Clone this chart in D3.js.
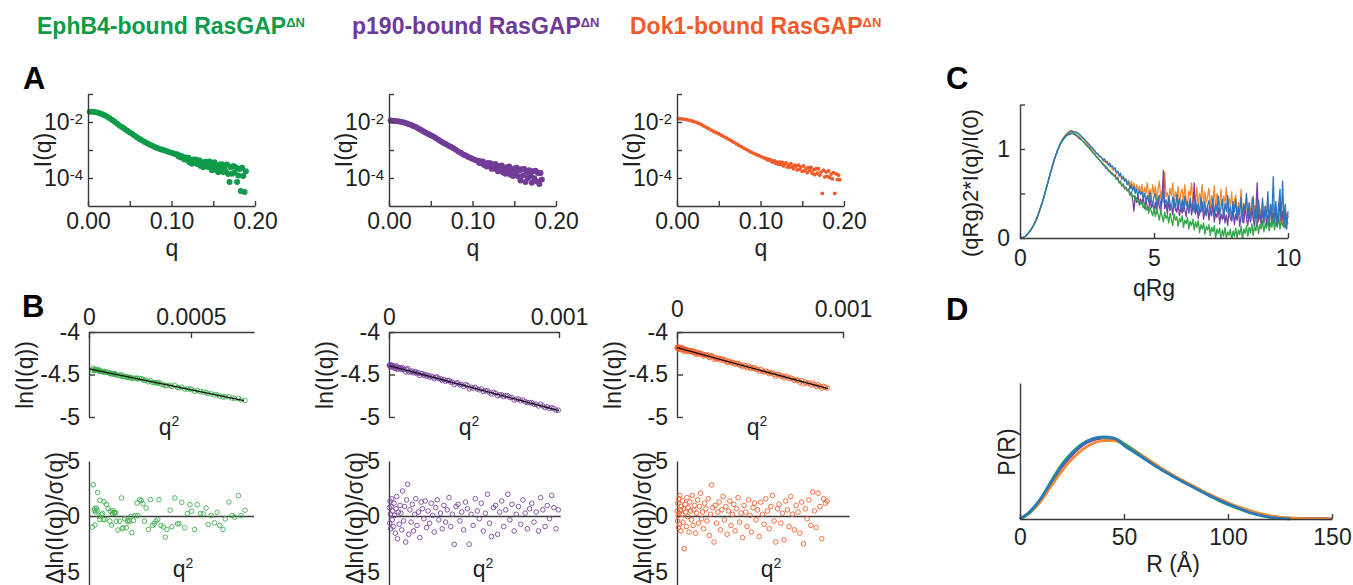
<!DOCTYPE html>
<html>
<head>
<meta charset="utf-8">
<script src="https://cdn.jsdelivr.net/npm/d3@7"></script>
<style>
body{margin:0;background:#fff}
</style>
</head>
<body>
<svg id="fig" width="1353" height="585"></svg>
<script>
// ---------- panel A : I(q) vs q (log10 I) ----------
const qA = [0.002,0.005,0.008,0.011,0.014,0.017,0.02,0.023,0.026,0.029,
  0.032,0.035,0.038,0.041,0.044,0.047,0.05,0.053,0.056,0.059,
  0.062,0.065,0.068,0.071,0.074,0.077,0.08,0.083,0.086,0.089,
  0.092,0.095,0.098,0.101,0.104,
  0.1065,0.108,0.1095,0.111,0.1125,0.114,0.1155,0.117,0.1185,0.12,
  0.1215,0.123,0.1245,0.126,0.1275,0.129,0.1305,0.132,0.1335,0.135,
  0.1365,0.138,0.1395,0.141,0.1425,0.144,0.1455,0.147,0.1485,0.15,
  0.1515,0.153,0.1545,0.156,0.1575,0.159,0.1605,0.162,0.1635,0.165,
  0.1665,0.168,0.1695,0.171,0.1725,0.174,0.1755,0.177,0.1785,0.18,
  0.1815,0.183,0.1845,0.186,0.1875,0.189,0.1905,0.192,0.1935,0.195];
const ephLogI = [-1.63,-1.635,-1.645,-1.66,-1.69,-1.72,-1.76,-1.81,-1.87,-1.93,
  -1.99,-2.06,-2.13,-2.19,-2.25,-2.31,-2.37,-2.43,-2.49,-2.55,
  -2.61,-2.66,-2.71,-2.76,-2.81,-2.85,-2.89,-2.93,-2.96,-2.99,
  -3.02,-3.05,-3.08,-3.11,-3.14,
  -3.15,-3.22,-3.20,-3.27,-3.22,-3.28,-3.34,-3.27,-3.35,-3.28,
  -3.44,-3.35,-3.49,-3.34,-3.44,-3.34,-3.50,-3.46,-3.37,-3.57,
  -3.45,-3.62,-3.43,-3.55,-3.42,-3.61,-3.415,-3.615,-3.725,-3.525,
  -3.435,-3.715,-3.595,-3.795,-3.515,-3.685,-3.505,-3.79,-3.60,-3.76,
  -3.52,-3.86,-4.14,-3.615,-3.845,-3.57,-3.80,-3.62,-4.14,-3.915,
  -3.68,-4.46,-3.635,-3.93,-4.50,-3.76];
const p190LogI = [-1.95,-1.955,-1.96,-1.975,-1.99,-2.01,-2.04,-2.07,-2.10,-2.14,
  -2.18,-2.23,-2.28,-2.33,-2.38,-2.43,-2.47,-2.52,-2.57,-2.63,
  -2.69,-2.74,-2.79,-2.84,-2.88,-2.94,-2.99,-3.05,-3.10,-3.16,
  -3.20,-3.25,-3.29,-3.33,-3.37,
  -3.38,-3.46,-3.40,-3.47,-3.41,-3.54,-3.49,-3.59,-3.46,-3.58,
  -3.47,-3.67,-3.55,-3.67,-3.50,-3.65,-3.76,-3.57,-3.71,-3.55,
  -3.80,-3.67,-3.85,-3.62,-3.79,-3.59,-3.88,-3.71,-3.93,-3.66,
  -3.805,-3.63,-3.94,-3.735,-4.09,-3.69,-3.915,-3.68,-4.14,-3.805,
  -4.00,-3.72,-3.915,-4.17,-3.755,-4.01,-3.74,-4.115,-3.82,-4.21,
  -3.82,-4.05];
const dok1LogI = [-1.88,-1.885,-1.895,-1.91,-1.93,-1.955,-1.98,-2.01,-2.05,-2.09,
  -2.14,-2.19,-2.24,-2.29,-2.34,-2.38,-2.42,-2.47,-2.52,-2.57,
  -2.62,-2.67,-2.72,-2.78,-2.83,-2.88,-2.93,-2.98,-3.03,-3.08,
  -3.12,-3.16,-3.20,-3.24,-3.28,
  -3.30,-3.35,-3.33,-3.37,-3.35,-3.43,-3.41,-3.39,-3.48,-3.43,
  -3.51,-3.43,-3.51,-3.44,-3.57,-3.51,-3.46,-3.61,-3.52,-3.61,
  -3.49,-3.60,-3.67,-3.54,-3.59,-3.71,-3.54,-3.68,-3.60,-3.76,
  -3.57,-3.74,-3.66,-3.81,-3.63,-3.74,-3.62,-3.83,-3.71,-3.88,
  -3.67,-3.83,-3.67,-3.90,-3.79,-4.55,-3.72,-3.96,-3.79,-3.94,
  -3.75,-3.99,-3.86,-4.03,-3.81,-4.55,-3.85,-4.06,-3.90,-4.06];
const qTicksA = [0, 0.05, 0.1, 0.15, 0.2];
const qTickLabelsA = ["0.00", "", "0.10", "", "0.20"];
const iTicksA = [1e-4, 1e-3, 1e-2, 1e-1];
const iTickLabelsA = [["10", "-4"], null, ["10", "-2"], null];

// ---------- panel B : Guinier (q^2 in units of 1e-5) and residuals ----------
const ephQ2 = [2.1,4.2,5.3,7.4,2.8,3.7,2.6,4.0,3.2,1.6,2.9,5.0,5.3,6.1,6.6,7.0,7.8,8.6,9.4,10.2,
  10.5,11.0,11.5,11.8,12.3,12.6,13.1,13.4,14.2,15.0,15.9,16.2,16.7,17.5,18.3,18.8,19.1,19.9,20.4,21.0,
  21.8,22.7,23.6,23.9,24.8,25.6,26.4,27.2,28.0,29.1,30.1,31.2,32.0,32.8,33.7,34.3,35.3,36.4,37.4,38.2,
  39.8,40.6,42.1,43.4,44.2,45.5,46.9,48.2,49.5,50.3,51.8,53.1,54.7,56.0,57.4,58.4,59.9,61.5,62.8,64.1,
  65.7,66.8,68.6,70.1,71.4,73.3,74.6,76.5];
const ephLnI = [-4.425,-4.440,-4.451,-4.462,-4.444,-4.448,-4.444,-4.451,-4.448,-4.449,
  -4.455,-4.459,-4.463,-4.464,-4.466,-4.471,-4.475,-4.470,-4.476,-4.488,
  -4.483,-4.494,-4.490,-4.489,-4.493,-4.494,-4.497,-4.503,-4.513,-4.511,
  -4.501,-4.522,-4.524,-4.522,-4.532,-4.529,-4.532,-4.535,-4.535,-4.548,
  -4.544,-4.545,-4.542,-4.551,-4.546,-4.550,-4.556,-4.571,-4.567,-4.585,
  -4.572,-4.593,-4.596,-4.598,-4.602,-4.592,-4.613,-4.620,-4.631,-4.630,
  -4.626,-4.640,-4.629,-4.652,-4.656,-4.649,-4.672,-4.669,-4.670,-4.678,
  -4.697,-4.687,-4.701,-4.707,-4.710,-4.726,-4.727,-4.740,-4.739,-4.754,
  -4.764,-4.763,-4.761,-4.777,-4.784,-4.780,-4.800,-4.805];
const ephRes = [2.86,2.17,1.46,1.34,0.71,0.77,0.54,0.57,0.42,-0.95,
  -0.77,0.03,-0.27,0.18,0.27,-0.27,-0.27,1.07,0.71,-0.42,
  0.48,-0.77,0.27,0.51,0.33,0.39,0.33,-0.42,-1.22,-0.42,
  1.67,-1.10,-1.01,-0.21,-1.01,-0.36,-0.48,-0.42,0.03,-1.46,
  -0.36,0.09,1.22,0.09,1.52,1.43,1.16,-0.42,0.77,-1.16,
  1.52,-0.80,-0.63,-0.42,-0.27,1.52,-0.80,-0.95,-1.85,-1.16,
  0.57,-0.92,1.67,-0.65,-0.65,1.28,-1.01,0.27,1.07,0.48,
  -1.16,1.07,0.27,0.24,0.77,-0.71,0.09,-0.57,0.39,-0.80,
  -1.16,-0.21,1.31,0.09,-0.06,1.88,0.09,0.57];
const ephFitQ2 = [0, 76], ephFitLnI = [-4.435, -4.807];

const p190Q2 = [0.2,0.4,0.6,0.8,1.0,1.3,1.6,1.9,2.2,2.5,
  2.9,3.3,3.7,4.1,4.5,5.0,5.5,6.0,6.5,7.0,
  7.5,8.0,8.6,9.2,9.8,10.4,11.0,11.6,12.3,13.0,
  13.7,14.4,15.1,15.8,16.5,17.3,18.1,18.9,19.7,20.5,
  21.3,22.1,23.0,23.9,24.8,25.7,26.6,27.5,28.4,29.3,
  30.3,31.3,32.3,33.3,34.3,35.3,36.3,37.3,38.4,39.5,
  40.6,41.7,42.8,43.9,45.0,46.1,47.2,48.3,49.5,50.7,
  51.9,53.1,54.3,55.5,56.7,57.9,59.1,60.3,61.5,62.7,
  63.9,65.1,66.3,67.5,68.7,69.9,71.1,72.3,73.6,74.9,
  76.2,77.5,78.8,80.1,81.4,82.7,84.0,85.3,86.6,87.9,
  89.2,90.5,91.8,93.1,94.4,95.7,97.0,98.3,99.6];
const p190LnI = [-4.39,-4.40,-4.39,-4.40,-4.41,-4.39,-4.39,-4.41,-4.40,-4.42,
  -4.40,-4.41,-4.43,-4.41,-4.40,-4.44,-4.42,-4.43,-4.42,-4.43,
  -4.44,-4.42,-4.44,-4.44,-4.47,-4.44,-4.43,-4.47,-4.46,-4.47,
  -4.46,-4.48,-4.47,-4.47,-4.49,-4.48,-4.51,-4.49,-4.49,-4.51,
  -4.50,-4.52,-4.51,-4.53,-4.52,-4.53,-4.55,-4.53,-4.53,-4.55,
  -4.55,-4.57,-4.56,-4.58,-4.57,-4.57,-4.59,-4.59,-4.62,-4.60,
  -4.60,-4.62,-4.62,-4.64,-4.62,-4.63,-4.67,-4.65,-4.66,-4.65,
  -4.67,-4.68,-4.67,-4.70,-4.69,-4.69,-4.71,-4.73,-4.71,-4.72,
  -4.75,-4.74,-4.74,-4.76,-4.75,-4.75,-4.77,-4.77,-4.80,-4.79,
  -4.79,-4.81,-4.80,-4.82,-4.83,-4.83,-4.83,-4.85,-4.85,-4.87,
  -4.85,-4.87,-4.89,-4.88,-4.90,-4.89,-4.90,-4.92,-4.92];
const p190Res = [0.8,-0.6,1.4,0.2,-1.1,0.9,1.6,-0.3,0.5,-0.9,
  1.2,0.1,-1.5,0.7,1.8,-2.0,0.4,-0.7,1.0,0.3,
  -1.2,2.3,-0.4,0.9,-2.3,1.5,2.9,-1.6,0.6,-0.5,
  1.1,-1.3,0.2,1.6,-0.8,0.4,-1.9,1.3,0.7,-0.2,
  1.4,-1.0,0.5,-0.6,1.2,0.1,-1.4,0.8,1.5,-0.3,
  0.3,-1.1,1.0,-0.5,0.6,1.7,-0.9,0.2,-2.5,0.9,
  1.1,-0.4,0.4,-1.2,1.3,0.7,-2.5,0.2,-0.8,1.6,
  0.5,-0.2,1.2,-1.3,0.3,2.0,-0.6,-1.8,0.8,1.0,
  -1.6,0.4,1.4,-0.9,0.6,2.0,-0.3,1.1,-1.3,0.2,
  0.9,-0.7,1.5,0.3,-1.1,0.7,1.2,-0.5,0.4,-1.3,
  1.7,0.6,-0.9,1.0,-0.2,1.9,0.8,-1.1,0.6];
const p190FitQ2 = [0, 100], p190FitLnI = [-4.395, -4.925];

const dok1Q2 = [0.1,0.3,0.5,0.7,0.9,1.1,1.3,1.5,1.8,2.1,
  2.4,2.7,3.0,3.3,3.6,4.0,4.4,4.8,5.2,5.6,
  6.0,6.4,6.8,7.2,7.7,8.2,8.7,9.2,9.7,10.2,
  10.7,11.2,11.8,12.4,13.0,13.6,14.2,14.8,15.4,16.0,
  16.7,17.4,18.1,18.8,19.5,20.2,20.9,21.6,22.3,23.0,
  23.8,24.6,25.4,26.2,27.0,27.8,28.6,29.4,30.2,31.0,
  31.8,32.6,33.4,34.2,35.0,35.9,36.8,37.7,38.6,39.5,
  40.4,41.3,42.2,43.1,44.0,44.9,45.8,46.7,47.6,48.5,
  49.5,50.5,51.5,52.5,53.5,54.5,55.5,56.5,57.5,58.5,
  59.5,60.5,61.5,62.5,63.5,64.5,65.5,66.5,67.5,68.5,
  69.6,70.7,71.8,72.9,74.0,75.1,76.2,77.3,78.4,79.5,
  80.6,81.7,82.8,83.9,85.0,86.1,87.2,88.3,89.4,90.5];
const dok1LnI = [-4.18,-4.19,-4.18,-4.19,-4.20,-4.18,-4.19,-4.20,-4.18,-4.19,
  -4.21,-4.19,-4.20,-4.19,-4.21,-4.20,-4.23,-4.20,-4.21,-4.22,
  -4.21,-4.22,-4.22,-4.23,-4.22,-4.22,-4.23,-4.22,-4.24,-4.24,
  -4.23,-4.26,-4.25,-4.24,-4.26,-4.25,-4.25,-4.26,-4.26,-4.28,
  -4.27,-4.27,-4.28,-4.27,-4.30,-4.29,-4.28,-4.29,-4.32,-4.30,
  -4.32,-4.31,-4.31,-4.33,-4.32,-4.32,-4.34,-4.33,-4.36,-4.35,
  -4.34,-4.36,-4.36,-4.36,-4.38,-4.37,-4.37,-4.39,-4.39,-4.41,
  -4.39,-4.40,-4.42,-4.40,-4.42,-4.43,-4.42,-4.42,-4.44,-4.44,
  -4.46,-4.44,-4.46,-4.47,-4.46,-4.47,-4.49,-4.48,-4.48,-4.50,
  -4.52,-4.50,-4.50,-4.52,-4.52,-4.54,-4.52,-4.53,-4.55,-4.54,
  -4.55,-4.57,-4.56,-4.57,-4.59,-4.57,-4.61,-4.59,-4.60,-4.60,
  -4.62,-4.60,-4.62,-4.64,-4.62,-4.64,-4.66,-4.64,-4.65,-4.66];
const dok1Res = [0.5,-0.4,1.2,0.1,-1.0,1.6,0.3,-0.7,1.9,0.6,
  -1.3,0.9,0.2,1.4,-0.5,0.7,-2.9,1.1,0.4,-0.9,
  1.7,0.0,0.8,-1.4,1.3,0.5,-0.3,1.9,-0.8,0.6,
  1.0,-1.5,0.3,1.5,-0.6,0.9,2.1,-0.2,0.4,-1.1,
  1.2,0.7,-0.4,1.6,-1.7,0.2,2.85,0.8,-2.3,1.0,
  -0.6,0.4,1.3,-1.2,0.6,1.8,-0.3,0.9,-1.6,0.5,
  1.4,-0.8,0.2,1.1,-1.3,0.7,1.7,-0.5,0.3,-1.9,
  1.0,0.4,-0.9,1.5,0.1,-1.4,0.8,1.2,-0.3,0.6,
  -1.8,1.3,0.2,-0.7,1.6,0.5,-1.1,0.9,1.9,-0.4,
  -2.3,0.7,1.1,-0.6,0.3,-2.1,1.4,0.6,-0.9,1.8,
  0.2,-1.2,1.0,0.4,-1.5,1.3,-2.45,0.7,-0.2,1.5,
  -0.8,2.2,0.5,-1.0,2.1,0.9,-2.0,1.6,1.2,1.4];
const dok1FitQ2 = [0, 91], dok1FitLnI = [-4.185, -4.667];

// ---------- panel C : dimensionless Kratky ----------
const qRgGrid = [0,0.1,0.2,0.3,0.4,0.5,0.6,0.7,0.8,0.9,1,1.1,1.2,1.3,1.4,1.5,1.6,1.7,1.8,1.9,
  2,2.1,2.2,2.3,2.4,2.5,
  2.55,2.6,2.65,2.7,2.75,2.8,2.85,2.9,2.95,3,3.05,3.1,3.15,3.2,3.25,3.3,3.35,3.4,3.45,3.5,
  3.55,3.6,3.65,3.7,3.75,3.8,3.85,3.9,3.95,4,4.05,4.1,4.15,4.2,4.25,4.3,4.35,4.4,4.45,4.5,
  4.55,4.6,4.65,4.7,4.75,4.8,4.85,4.9,4.95,5,5.05,5.1,5.15,5.2,5.25,5.3,5.35,5.4,5.45,5.5,
  5.55,5.6,5.65,5.7,5.75,5.8,5.85,5.9,5.95,6,6.05,6.1,6.15,6.2,6.25,6.3,6.35,6.4,6.45,6.5,
  6.55,6.6,6.65,6.7,6.75,6.8,6.85,6.9,6.95,7,7.05,7.1,7.15,7.2,7.25,7.3,7.35,7.4,7.45,7.5,
  7.55,7.6,7.65,7.7,7.75,7.8,7.85,7.9,7.95,8,8.05,8.1,8.15,8.2,8.25,8.3,8.35,8.4,8.45,8.5,
  8.55,8.6,8.65,8.7,8.75,8.8,8.85,8.9,8.95,9,9.05,9.1,9.15,9.2,9.25,9.3,9.35,9.4,9.45,9.5,
  9.55,9.6,9.65,9.7,9.75,9.8,9.85,9.9,9.95,10];
const kratkyOrange = [0,0.005,0.02,0.05,0.09,0.14,0.2,0.28,0.37,0.47,
  0.58,0.69,0.8,0.9,0.99,1.06,1.12,1.16,1.19,1.21,1.2,1.18,1.17,1.13,1.1,1.06,
  1.05,1.04,1.01,1.0,0.98,0.97,0.95,0.94,0.93,0.92,
  0.9,0.89,0.86,0.87,0.83,0.84,0.8,0.81,0.77,0.76,
  0.76,0.72,0.75,0.69,0.72,0.66,0.7,0.64,0.67,0.62,
  0.65,0.58,0.64,0.56,0.62,0.52,0.6,0.54,0.58,0.5,
  0.6,0.47,0.57,0.5,0.62,0.46,0.55,0.44,0.6,0.49,
  0.58,0.42,0.55,0.64,0.45,0.53,0.4,0.74,0.46,0.51,
  0.41,0.56,0.47,0.62,0.39,0.52,0.45,0.58,0.38,0.5,
  0.55,0.4,0.6,0.44,0.36,0.53,0.47,0.62,0.37,0.49,
  0.42,0.57,0.34,0.5,0.45,0.6,0.35,0.52,0.4,0.47,
  0.56,0.33,0.48,0.41,0.58,0.3,0.5,0.43,0.36,0.55,
  0.32,0.47,0.4,0.57,0.28,0.45,0.36,0.52,0.27,0.42,
  0.48,0.25,0.4,0.33,0.55,0.24,0.39,0.3,0.46,0.22,
  0.38,0.28,0.45,0.2,0.36,0.26,0.42,0.18,0.33,0.25,
  0.4,0.17,0.31,0.24,0.44,0.15,0.35,0.22,0.38,0.14,
  0.3,0.2,0.41,0.13,0.33,0.19,0.36,0.12,0.28,0.22];
const kratkyPurple = [0,0.005,0.02,0.05,0.09,0.14,0.2,0.28,0.37,0.47,
  0.58,0.69,0.8,0.9,0.98,1.05,1.1,1.14,1.16,1.17,1.17,1.15,1.12,1.1,1.07,1.04,
  1.03,1.01,0.99,0.97,0.95,0.94,0.91,0.9,0.88,0.86,
  0.85,0.82,0.82,0.78,0.79,0.75,0.76,0.72,0.73,0.7,
  0.71,0.66,0.68,0.62,0.64,0.58,0.61,0.55,0.57,0.53,
  0.55,0.48,0.52,0.44,0.3,0.47,0.4,0.49,0.37,0.44,
  0.38,0.46,0.33,0.42,0.36,0.3,0.44,0.34,0.39,0.31,
  0.4,0.28,0.45,0.35,0.3,0.42,0.76,0.33,0.38,0.27,
  0.41,0.31,0.36,0.26,0.43,0.34,0.29,0.39,0.25,0.35,
  0.28,0.4,0.32,0.24,0.38,0.3,0.42,0.26,0.35,0.62,
  0.27,0.36,0.22,0.33,0.29,0.4,0.21,0.31,0.26,0.36,
  0.2,0.32,0.25,0.37,0.18,0.28,0.23,0.34,0.16,0.27,
  0.21,0.32,0.17,0.26,0.14,0.3,0.22,0.19,0.33,0.15,
  0.27,0.2,0.34,0.13,0.25,0.3,0.17,0.36,0.22,0.14,
  0.29,0.18,0.33,0.24,0.12,0.31,0.62,0.2,0.27,0.15,
  0.3,0.19,0.36,0.13,0.26,0.22,0.38,0.16,0.28,0.21,
  0.33,0.14,0.25,0.4,0.18,0.3,0.12,0.27,0.2,0.24];
const kratkyGreen = [0,0.005,0.02,0.05,0.09,0.14,0.2,0.28,0.37,0.47,
  0.58,0.69,0.8,0.9,0.98,1.05,1.1,1.14,1.17,1.18,1.18,1.16,1.14,1.1,1.07,1.03,
  1.02,1.0,0.99,0.96,0.96,0.93,0.92,0.9,0.88,0.87,
  0.85,0.84,0.81,0.81,0.78,0.77,0.74,0.74,0.71,0.7,
  0.69,0.66,0.66,0.62,0.63,0.59,0.6,0.56,0.57,0.53,
  0.54,0.49,0.51,0.46,0.48,0.42,0.45,0.4,0.43,0.38,
  0.4,0.34,0.38,0.31,0.36,0.28,0.34,0.3,0.25,0.33,
  0.24,0.32,0.27,0.2,0.31,0.25,0.18,0.29,0.22,0.26,
  0.17,0.28,0.21,0.14,0.27,0.2,0.24,0.13,0.22,0.18,
  0.25,0.12,0.2,0.16,0.23,0.1,0.19,0.14,0.21,0.09,
  0.18,0.12,0.2,0.06,0.15,0.1,0.17,0.04,0.13,0.09,
  0.15,0.03,0.12,0.07,0.14,0,0.1,0.05,0.11,-0.02,
  0.09,0.02,0.12,-0.01,0.07,0.03,0.1,-0.03,0.08,0.02,
  0.11,0,0.09,0.04,0.13,-0.02,0.1,0.05,0.14,0.02,
  0.12,0.06,0.16,0.03,0.13,0.08,0.18,0.05,0.15,0.1,
  0.2,0.07,0.16,0.11,0.21,0.08,0.17,0.12,0.22,0.09,
  0.18,0.13,0.23,0.1,0.19,0.14,0.22,0.11,0.2,0.16];
const kratkyBlue = [0,0.005,0.02,0.05,0.09,0.14,0.2,0.28,0.37,0.47,
  0.58,0.69,0.8,0.9,0.99,1.06,1.11,1.15,1.18,1.2,1.19,1.19,1.17,1.14,1.11,1.08,
  1.06,1.05,1.02,1.02,0.99,0.98,0.95,0.95,0.92,0.91,
  0.9,0.87,0.89,0.85,0.86,0.82,0.84,0.8,0.81,0.77,
  0.79,0.74,0.75,0.7,0.73,0.66,0.69,0.64,0.66,0.6,
  0.63,0.55,0.6,0.53,0.58,0.5,0.55,0.47,0.54,0.49,
  0.52,0.44,0.5,0.41,0.48,0.4,0.51,0.43,0.37,0.47,
  0.5,0.36,0.44,0.48,0.35,0.45,0.52,0.38,0.43,0.34,
  0.47,0.39,0.33,0.46,0.42,0.31,0.49,0.37,0.44,0.32,
  0.43,0.3,0.47,0.36,0.41,0.28,0.45,0.34,0.39,0.29,
  0.44,0.31,0.38,0.26,0.46,0.35,0.29,0.41,0.25,0.37,
  0.42,0.27,0.36,0.45,0.24,0.38,0.3,0.47,0.26,0.35,
  0.43,0.22,0.39,0.3,0.48,0.25,0.36,0.2,0.41,0.29,
  0.44,0.21,0.35,0.27,0.46,0.18,0.38,0.31,0.5,0.23,
  0.4,0.19,0.33,0.47,0.22,0.36,0.15,0.43,0.28,0.2,
  0.45,0.17,0.34,0.24,0.52,0.14,0.37,0.25,0.69,0.18,
  0.41,0.12,0.33,0.55,0.2,0.64,0.16,0.38,0.1,0.3];

// ---------- panel D : P(R), normalised ----------
const rGrid = [0,5,10,15,20,25,30,35,40,45,50,55,60,65,70,75,80,85,90,95,100,105,110,115,120,125,130,135,140,145,150];
const prPurple = [0,0.05,0.14,0.26,0.38,0.47,0.54,0.58,0.595,0.59,0.555,0.505,0.45,0.4,0.35,0.305,0.265,0.225,0.185,0.15,0.115,0.085,0.057,0.035,0.02,0.011,0.006,0.004,0.003,0.003,0.002];
const prOrange = [0,0.05,0.13,0.24,0.35,0.44,0.51,0.555,0.575,0.575,0.55,0.505,0.455,0.405,0.355,0.31,0.27,0.23,0.19,0.155,0.12,0.09,0.065,0.042,0.026,0.015,0.008,0.004,0.002,0.001,0];
const prGreen = [0,0.05,0.15,0.28,0.4,0.49,0.555,0.59,0.6,0.595,0.555,0.5,0.445,0.39,0.345,0.3,0.26,0.22,0.18,0.14,0.105,0.075,0.048,0.028,0.013,0.004,0];
const prBlue = [0,0.06,0.15,0.27,0.39,0.48,0.55,0.59,0.605,0.595,0.54,0.49,0.44,0.39,0.345,0.3,0.26,0.22,0.18,0.145,0.11,0.08,0.05,0.03,0.013,0.004,0];

const FONT = '"Liberation Sans", Arial, Helvetica, sans-serif';
const INK = "#231f20";
const AXIS = "#3a3a3a";
const GREEN = "#0f9b4a", PURPLE = "#6d3a95", ORANGE = "#f15a29";

const svg = d3.select("#fig").attr("font-family", FONT);

function styleAxis(g) {
  g.attr("font-family", FONT).attr("font-size", 23);
  g.select(".domain").attr("stroke", AXIS).attr("stroke-width", 1.4);
  g.selectAll(".tick line").attr("stroke", AXIS).attr("stroke-width", 1.4);
  g.selectAll(".tick text").attr("fill", INK);
  return g;
}
function label(x, y, s, size, rotate) {
  const t = svg.append("text").attr("x", x).attr("y", y).attr("font-size", size)
    .attr("fill", INK).attr("text-anchor", "middle").text(s);
  if (rotate) t.attr("transform", `rotate(-90,${x},${y})`).attr("dy", "0.35em");
  return t;
}
function q2label(x, y) {
  label(x, y, "q", 23).append("tspan").attr("font-size", 14).attr("dy", -9).text("2");
}

// titles and panel letters
[[37, "EphB4-bound RasGAP", GREEN], [352, "p190-bound RasGAP", PURPLE], [630, "Dok1-bound RasGAP", ORANGE]]
  .forEach(([x, s, c]) => {
    svg.append("text").attr("x", x).attr("y", 34).attr("font-size", 23).attr("font-weight", "bold")
      .attr("fill", c).text(s)
      .append("tspan").attr("font-size", 13).attr("dy", -7).text("ΔN");
  });
[["A", 23, 89], ["B", 22, 317], ["C", 946, 89], ["D", 946, 320]].forEach(([s, x, y]) => {
  svg.append("text").attr("x", x).attr("y", y).attr("font-size", 31).attr("font-weight", "bold")
    .attr("fill", "#000").text(s);
});

// ---------- A ----------
function drawA(x0, logI, color, r) {
  const x = d3.scaleLinear().domain([0, 0.2]).range([x0, x0 + 167]);
  const y = d3.scaleLog().domain([1e-5, 1e-1]).range([206, 94]);
  const g = svg.append("g");
  g.selectAll("circle").data(logI).join("circle")
    .attr("cx", (d, i) => x(qA[i])).attr("cy", d => y(Math.pow(10, d)))
    .attr("r", r).attr("fill", color);
  styleAxis(g.append("g").attr("transform", "translate(0,206)")
    .call(d3.axisBottom(x).tickValues(qTicksA).tickSize(-5).tickSizeOuter(0).tickPadding(7)
      .tickFormat((d, i) => qTickLabelsA[i])));
  styleAxis(g.append("g").attr("transform", `translate(${x0},0)`)
    .call(d3.axisLeft(y).tickValues(iTicksA).tickSize(-5).tickSizeOuter(0).tickFormat("")));
  iTicksA.forEach((t, i) => {
    const lab = iTickLabelsA[i];
    if (!lab) return;
    const tx = g.append("text").attr("x", x0 - 5).attr("y", y(t) + 8).attr("text-anchor", "end")
      .attr("font-size", 23).attr("fill", INK);
    tx.append("tspan").text(lab[0]);
    tx.append("tspan").attr("font-size", 15).attr("dy", -6).text(lab[1]);
  });
  label(x0 - 45, 150, "I(q)", 23, true);
  label(x0 + 84, 256, "q", 23);
}
drawA(88, ephLogI, GREEN, 3);
drawA(389, p190LogI, "#713c96", 3);
drawA(677, dok1LogI, ORANGE, 1.9);

// ---------- B ----------
function drawB(c) {
  const x = d3.scaleLinear().domain([0, c.xMax]).range([c.x0, c.x0 + c.w]);
  const y = d3.scaleLinear().domain([-5, -4]).range([417, 332]);
  const yr = d3.scaleLinear().domain([-6.5, 5]).range([588.7, 461]);
  const g = svg.append("g");
  // Guinier
  styleAxis(g.append("g").attr("transform", "translate(0,332)")
    .call(d3.axisTop(x).tickValues(c.ticks).tickSize(-6).tickSizeOuter(0).tickPadding(c.topPad)
      .tickFormat((d, i) => c.tickLabels[i])));
  styleAxis(g.append("g").attr("transform", `translate(${c.x0},0)`)
    .call(d3.axisLeft(y).tickValues([-5, -4.5, -4]).tickSize(-6).tickSizeOuter(0).tickPadding(9)
      .tickFormat((d, i) => ["-5", "-4.5", "-4"][i])));
  g.append("g").selectAll("circle").data(c.lnI).join("circle")
    .attr("cx", (d, i) => x(c.q2[i])).attr("cy", d => y(d)).attr("r", 2.3)
    .attr("fill", "none").attr("stroke", c.color).attr("stroke-width", 0.9);
  g.append("path").datum(c.fitQ2)
    .attr("d", d3.line().x(d => x(d)).y((d, i) => y(c.fitLnI[i])))
    .attr("stroke", "#111").attr("stroke-width", 1.3).attr("fill", "none");
  label(c.x0 - 64, 375, "ln(I(q))", 23, true);
  q2label(c.x0 + 80, 435);
  // residuals
  styleAxis(g.append("g").attr("transform", `translate(${c.x0},0)`)
    .call(d3.axisLeft(yr).tickValues([-5, 0, 5]).tickSize(0).tickSizeOuter(0).tickPadding(9)
      .tickFormat((d, i) => ["-5", "0", "5"][i])));
  g.append("line").attr("x1", x(0)).attr("x2", x(c.resEnd)).attr("y1", yr(0)).attr("y2", yr(0))
    .attr("stroke", AXIS).attr("stroke-width", 1.4);
  g.append("g").selectAll("circle").data(c.res).join("circle")
    .attr("cx", (d, i) => x(c.q2[i])).attr("cy", d => yr(d)).attr("r", 2.3)
    .attr("fill", "none").attr("stroke", c.color).attr("stroke-width", 0.9);
  label(c.x0 - 34, 518, "Δln(I(q))/σ(q)", 23, true);
  q2label(c.x0 + 94, 577);
}
drawB({x0: 89, w: 165, xMax: 80.9, ticks: [0, 50], tickLabels: ["0", "0.0005"], topPad: 7,
  q2: ephQ2, lnI: ephLnI, res: ephRes, fitQ2: ephFitQ2, fitLnI: ephFitLnI, resEnd: 80.9, color: "#3fb04e"});
drawB({x0: 389, w: 170, xMax: 100, ticks: [0, 100], tickLabels: ["0", "0.001"], topPad: 7,
  q2: p190Q2, lnI: p190LnI, res: p190Res, fitQ2: p190FitQ2, fitLnI: p190FitLnI, resEnd: 101, color: "#7a45a0"});
drawB({x0: 677, w: 166, xMax: 100, ticks: [0, 100], tickLabels: ["0", "0.001"], topPad: 15,
  q2: dok1Q2, lnI: dok1LnI, res: dok1Res, fitQ2: dok1FitQ2, fitLnI: dok1FitLnI, resEnd: 104, color: "#f2602c"});

// ---------- C ----------
(function () {
  const x = d3.scaleLinear().domain([0, 10]).range([1020, 1288]);
  const y = d3.scaleLinear().domain([0, 1.5]).range([238, 104.5]);
  svg.append("clipPath").attr("id", "clipC").append("rect")
    .attr("x", 1020).attr("y", 95).attr("width", 270).attr("height", 143);
  const g = svg.append("g").attr("clip-path", "url(#clipC)");
  const line = d3.line().x((d, i) => x(qRgGrid[i])).y(d => y(d));
  [[kratkyOrange, "#f7892c"], [kratkyPurple, "#7d3ea0"], [kratkyGreen, "#2fa748"], [kratkyBlue, "#2a77c0"]]
    .forEach(([s, col]) => {
      g.append("path").datum(s).attr("d", line).attr("fill", "none")
        .attr("stroke", col).attr("stroke-width", 1.3).attr("stroke-linejoin", "round");
    });
  styleAxis(svg.append("g").attr("transform", "translate(0,238)")
    .call(d3.axisBottom(x).tickValues([0, 5, 10]).tickSize(-5).tickSizeOuter(0).tickPadding(12)
      .tickFormat((d, i) => ["0", "5", "10"][i])));
  styleAxis(svg.append("g").attr("transform", "translate(1020,0)")
    .call(d3.axisLeft(y).tickValues([0, 0.5, 1, 1.5]).tickSize(-5).tickSizeOuter(0).tickPadding(10)
      .tickFormat((d, i) => ["0", "", "1", ""][i])));
  label(1154, 296, "qRg", 23);
  label(970, 183, "(qRg)2*I(q)/I(0)", 22, true);
})();

// ---------- D ----------
(function () {
  const x = d3.scaleLinear().domain([0, 150]).range([1020, 1332]);
  const y = d3.scaleLinear().domain([0, 1]).range([519, 383]);
  const line = d3.line().x((d, i) => x(rGrid[i])).y(d => y(d)).curve(d3.curveMonotoneX);
  [[prPurple, "#7d3ea0"], [prOrange, "#f7892c"], [prGreen, "#2fa748"], [prBlue, "#2a77c0"]]
    .forEach(([s, col]) => {
      svg.append("path").datum(s).attr("d", line).attr("fill", "none")
        .attr("stroke", col).attr("stroke-width", 2.6);
    });
  styleAxis(svg.append("g").attr("transform", "translate(0,519)")
    .call(d3.axisBottom(x).tickValues([0, 50, 100, 150]).tickSize(-5).tickSizeOuter(0).tickPadding(10)
      .tickFormat((d, i) => ["0", "50", "100", "150"][i])));
  styleAxis(svg.append("g").attr("transform", "translate(1020,0)")
    .call(d3.axisLeft(y).tickValues([]).tickSizeOuter(0)));
  label(1007, 452, "P(R)", 23, true);
  label(1173, 572, "R (Å)", 23);
})();
</script>
</body>
</html>
